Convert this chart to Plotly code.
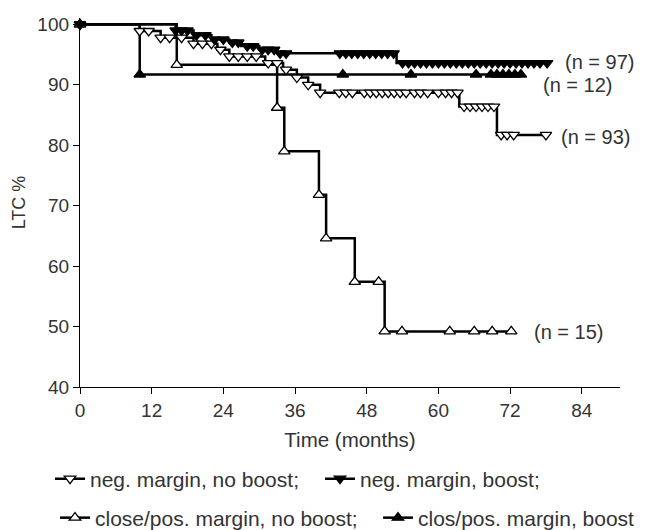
import numpy as np
import plotly.graph_objects as go

# ---------------- data ----------------
x_ticks = [0, 12, 24, 36, 48, 60, 72, 84]
y_ticks = [40, 50, 60, 70, 80, 90, 100]

series_names = [
    "neg. margin, no boost;",
    "neg. margin, boost;",
    "close/pos. margin, no boost;",
    "clos/pos. margin, boost",
]

# neg. margin, no boost (n = 93)
neg_noboost_t = [0, 10, 13.5, 19, 23, 25, 31, 34, 36.3, 38.2, 40.2, 63.5, 69.8]
neg_noboost_v = [100, 98.9, 97.8, 96.8, 95.8, 94.7, 93.6, 92.5, 91.2, 90.0, 88.7, 86.4, 81.7]
neg_noboost_end = 78.0
neg_noboost_cens = [0, 10, 11.5, 13.5, 15, 17, 19, 20.5, 22, 23.5, 25, 26.5, 28, 29.5,
                    31.5, 33, 34.5, 36.3, 38.2, 40.2, 43.4, 44.5, 45.6, 47.6, 48.6, 49.6,
                    50.6, 51.6, 52.6, 53.6, 54.6, 56, 57, 58.2, 60, 61.2, 62.2, 63.2,
                    64.3, 65.3, 66.3, 67.3, 68.3, 69.3, 70.5, 71.5, 72.6, 78.0]

# neg. margin, boost (n = 97)
neg_boost_t = [0, 16, 19, 22, 25, 27, 30, 33, 53]
neg_boost_v = [100, 99.0, 98.2, 97.5, 97.0, 96.4, 95.8, 95.2, 93.6]
neg_boost_end = 78.2
neg_boost_cens = [0, 16, 17, 18, 19.5, 21, 22.5, 24, 25.5, 26.5, 28, 29, 30.5, 31.5, 32.5,
                  33.5, 34.5, 43.5, 44.5, 45.5, 46.5, 47.5, 48.5, 49.5, 50.5, 51.5, 52.5,
                  54, 55, 56, 57, 58, 59, 60, 61, 62, 63, 64, 65, 66, 67, 68, 69, 70, 71,
                  72, 73, 74, 75, 76, 77, 78.2]

# close/pos. margin, no boost (n = 15)
close_noboost_t = [0, 16.2, 33, 34.2, 40, 41.2, 46, 51]
close_noboost_v = [100, 93.3, 86.2, 79.0, 71.8, 64.6, 57.4, 49.2]
close_noboost_end = 72.2
close_noboost_cens = [0, 16.2, 33, 34.2, 40, 41.2, 46, 50, 51, 53.9, 61.9, 66, 69, 72.2]

# clos/pos. margin, boost (n = 12)
close_boost_t = [0, 10]
close_boost_v = [100, 91.7]
close_boost_end = 74.2
close_boost_cens = [0, 10, 44, 55.4, 66.3, 68.8, 69.8, 70.8, 71.8, 72.8, 73.8]

n_labels = ["(n = 93)", "(n = 97)", "(n = 15)", "(n = 12)"]
n_label_x = [80.2, 80.9, 75.7, 77.1]
n_label_y = [81.4, 93.8, 49.1, 90.0]

# ---------------- helpers ----------------
def step_xy(t, v, end):
    return list(t) + [end], list(v) + [v[-1]]


def step_value(t, v, q):
    idx = np.searchsorted(np.asarray(t, float), np.asarray(q, float), side="right") - 1
    return np.asarray(v, float)[idx]


TXT = "#333333"
FONT = "Liberation Sans, Arial, Helvetica, sans-serif"

series = [
    (neg_noboost_t, neg_noboost_v, neg_noboost_end, neg_noboost_cens, "triangle-down", "white"),
    (neg_boost_t, neg_boost_v, neg_boost_end, neg_boost_cens, "triangle-down", "black"),
    (close_noboost_t, close_noboost_v, close_noboost_end, close_noboost_cens, "triangle-up", "white"),
    (close_boost_t, close_boost_v, close_boost_end, close_boost_cens, "triangle-up", "black"),
]
legend_ids = ["legend", "legend2", "legend3", "legend4"]
# legend entry origins (container px) and row centres
legend_pos = [(50, 479), (320, 479), (55, 518), (378, 518)]

fig = go.Figure()

# step lines
for (t, v, end, cens, sym, fill) in series:
    xs, ys = step_xy(t, v, end)
    fig.add_trace(go.Scatter(x=xs, y=ys, mode="lines", line=dict(color="black", width=2.5, shape="hv"),
                             showlegend=False, hoverinfo="skip", cliponaxis=False))

# censor / event markers
for i in [3, 2, 0, 1]:
    t, v, end, cens, sym, fill = series[i]
    fig.add_trace(go.Scatter(x=cens, y=step_value(t, v, cens), mode="markers",
                             marker=dict(symbol=sym, size=10, color=fill,
                                         line=dict(color="black", width=1.3)),
                             showlegend=False, cliponaxis=False))

# legend entries (one legend box per entry)
for i, (t, v, end, cens, sym, fill) in enumerate(series):
    fig.add_trace(go.Scatter(x=[None], y=[None], mode="lines+markers", name=series_names[i],
                             line=dict(color="black", width=2.5),
                             marker=dict(symbol=sym, size=10, color=fill,
                                         line=dict(color="black", width=1.3)),
                             legend=legend_ids[i]))

for txt, xv, yv in zip(n_labels, n_label_x, n_label_y):
    fig.add_annotation(x=xv, y=yv, text=txt, showarrow=False, xanchor="left", yanchor="middle",
                       font=dict(size=20, color=TXT, family=FONT))

axis_common = dict(showline=True, linecolor="black", linewidth=1.3, ticks="outside", ticklen=6,
                   tickwidth=1, tickcolor="black", showgrid=False, zeroline=False,
                   tickfont=dict(size=19, color=TXT, family=FONT))

legend_layout = {}
for lid, (px, py) in zip(legend_ids, legend_pos):
    legend_layout[lid] = dict(orientation="h", xref="container", yref="container",
                              x=px / 645, y=1 - py / 530, xanchor="left", yanchor="middle",
                              font=dict(size=21, color=TXT, family=FONT),
                              bgcolor="rgba(0,0,0,0)", borderwidth=0, itemclick=False)

fig.update_layout(
    width=645, height=530,
    margin=dict(l=80, r=25, t=18, b=143),
    paper_bgcolor="white", plot_bgcolor="white",
    font=dict(family=FONT, color=TXT, size=19),
    xaxis=dict(range=[0, 90.4], tickvals=x_ticks, ticktext=[str(v) for v in x_ticks],
               title=dict(text="Time (months)", font=dict(size=20.5, color=TXT), standoff=12),
               **axis_common),
    yaxis=dict(range=[40, 101.05], tickvals=y_ticks, ticktext=[str(v) for v in y_ticks],
               title=dict(text="LTC %", font=dict(size=18, color=TXT), standoff=7),
               **axis_common),
    showlegend=True,
    **legend_layout,
)

fig.write_html("out.html")
